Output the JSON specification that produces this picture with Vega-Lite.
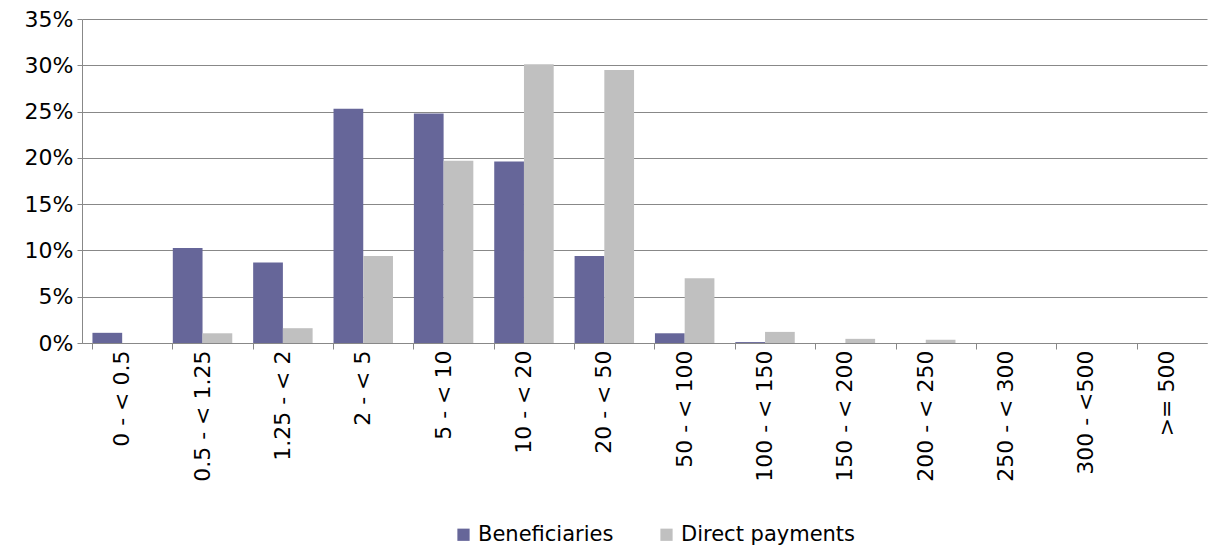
{
  "$schema": "https://vega.github.io/schema/vega-lite/v6.json",
  "width": 1125,
  "height": 324,
  "autosize": "none",
  "padding": {"left": 82, "top": 19, "right": 1, "bottom": 203},
  "config": {"view": {"stroke": null}, "font": "DejaVu Sans"},
  "data": {"values": [
    {"band": "0 - < 0.5", "series": "Beneficiaries", "value": 0.011},
    {"band": "0 - < 0.5", "series": "Direct payments", "value": 0.0},
    {"band": "0.5 - < 1.25", "series": "Beneficiaries", "value": 0.1025},
    {"band": "0.5 - < 1.25", "series": "Direct payments", "value": 0.0105},
    {"band": "1.25 - < 2", "series": "Beneficiaries", "value": 0.087},
    {"band": "1.25 - < 2", "series": "Direct payments", "value": 0.016},
    {"band": "2 - < 5", "series": "Beneficiaries", "value": 0.253},
    {"band": "2 - < 5", "series": "Direct payments", "value": 0.094},
    {"band": "5 - < 10", "series": "Beneficiaries", "value": 0.248},
    {"band": "5 - < 10", "series": "Direct payments", "value": 0.197},
    {"band": "10 - < 20", "series": "Beneficiaries", "value": 0.196},
    {"band": "10 - < 20", "series": "Direct payments", "value": 0.301},
    {"band": "20 - < 50", "series": "Beneficiaries", "value": 0.094},
    {"band": "20 - < 50", "series": "Direct payments", "value": 0.295},
    {"band": "50 - < 100", "series": "Beneficiaries", "value": 0.0105},
    {"band": "50 - < 100", "series": "Direct payments", "value": 0.07},
    {"band": "100 - < 150", "series": "Beneficiaries", "value": 0.001},
    {"band": "100 - < 150", "series": "Direct payments", "value": 0.012},
    {"band": "150 - < 200", "series": "Beneficiaries", "value": 0.0},
    {"band": "150 - < 200", "series": "Direct payments", "value": 0.0045},
    {"band": "200 - < 250", "series": "Beneficiaries", "value": 0.0},
    {"band": "200 - < 250", "series": "Direct payments", "value": 0.0035},
    {"band": "250 - < 300", "series": "Beneficiaries", "value": 0.0},
    {"band": "250 - < 300", "series": "Direct payments", "value": 0.0},
    {"band": "300 - <500", "series": "Beneficiaries", "value": 0.0},
    {"band": "300 - <500", "series": "Direct payments", "value": 0.0},
    {"band": ">= 500", "series": "Beneficiaries", "value": 0.0},
    {"band": ">= 500", "series": "Direct payments", "value": 0.0}
  ]},
  "layer": [
    {
      "mark": {"type": "tick", "opacity": 0},
      "encoding": {
        "x": {"field": "band", "type": "nominal", "sort": null,
          "scale": {"paddingInner": 0.26, "paddingOuter": 0.13},
          "axis": {"orient": "bottom", "bandPosition": 0, "labels": false, "domain": true, "domainColor": "#888888", "ticks": true, "tickSize": 6, "tickColor": "#888888", "title": null, "grid": false}}
      }
    },
    {
      "mark": {"type": "bar"},
      "encoding": {
        "x": {"field": "band", "type": "nominal", "sort": null,
          "axis": {"orient": "bottom", "labelAngle": -90, "ticks": false, "domain": false, "labelFontSize": 22, "labelPadding": 7, "labelColor": "#000000", "title": null}},
        "xOffset": {"field": "series", "type": "nominal", "sort": null},
        "y": {"field": "value", "type": "quantitative",
          "scale": {"domain": [0, 0.35]},
          "axis": {"format": ".0%", "values": [0, 0.05, 0.1, 0.15, 0.2, 0.25, 0.3, 0.35], "grid": true, "gridColor": "#888888", "domainColor": "#888888", "tickColor": "#888888", "tickSize": 5, "labelFontSize": 22, "labelColor": "#000000", "labelPadding": 4, "title": null}},
        "color": {"field": "series", "type": "nominal", "sort": null,
          "scale": {"range": ["#666699", "#C0C0C0"]},
          "legend": {"orient": "none", "legendX": 371, "legendY": 505, "direction": "horizontal", "title": null, "symbolType": "square", "symbolSize": 150, "symbolStrokeWidth": 0, "labelFontSize": 21, "labelLimit": 0, "labelColor": "#000000", "columnPadding": 42, "padding": 0}}
      }
    }
  ],
  "resolve": {"axis": {"x": "independent"}}
}
